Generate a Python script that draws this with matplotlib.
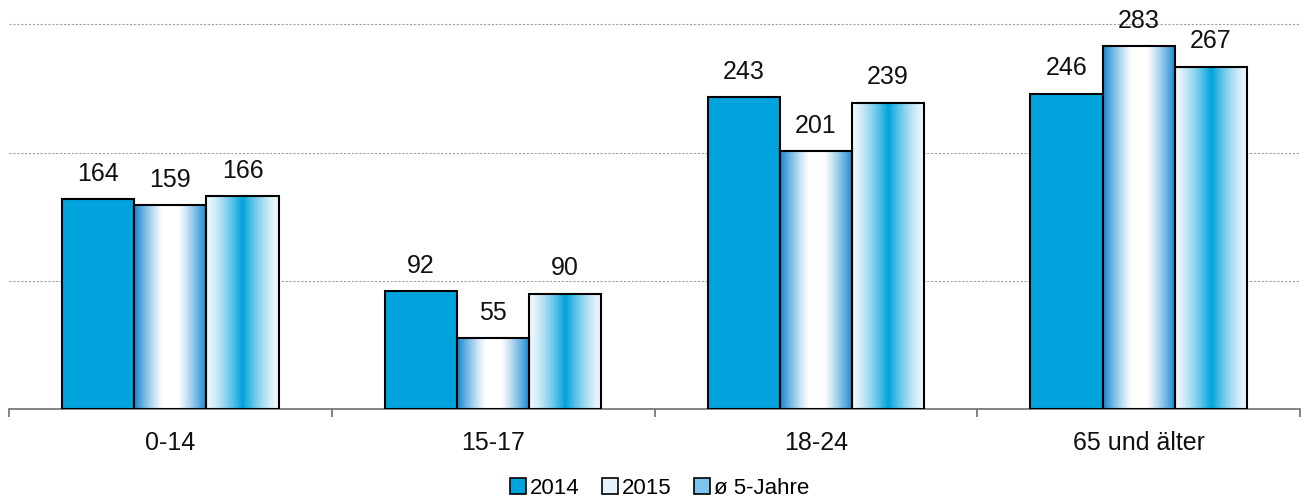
import numpy as np
import matplotlib
matplotlib.use('Agg')
import matplotlib.pyplot as plt
from matplotlib.patches import Patch
from matplotlib.ticker import FixedLocator

plt.rcParams['font.family'] = ['Liberation Sans', 'DejaVu Sans']

# data
categories = ['0-14', '15-17', '18-24', '65 und älter']
series_names = ['2014', '2015', 'ø 5-Jahre']
vals_2014 = [164, 92, 243, 246]
vals_2015 = [159, 55, 201, 283]
vals_avg = [166, 90, 239, 267]

blue = np.array([0, 163, 220]) / 255
white = np.array([1.0, 1.0, 1.0])


def profile(kind, n=200):
    # horizontal colour profile across a bar
    t = np.linspace(0, 1, n)
    d = np.abs(t - 0.5) * 2
    if kind == 'edges':
        w = np.clip((d - 0.2) / 0.8, 0, 1) ** 1.2
        edge = np.array([20, 135, 208]) / 255
        cols = white[None, :] * (1 - w[:, None]) + edge[None, :] * w[:, None]
    else:
        w = np.clip(1 - d, 0, 1) ** 1.4
        pale = np.array([242, 247, 252]) / 255
        cols = pale[None, :] * (1 - w[:, None]) + blue[None, :] * w[:, None]
    return cols[None, :, :]


fig = plt.figure(figsize=(13.09, 4.99), dpi=100)
ax = fig.add_axes([0.0069, 0.1804, 0.9862, 0.8196])

x = np.arange(len(categories))
bw = 72 / 322
ax.set_xlim(-0.5, len(categories) - 0.5)
ax.set_ylim(0, 319)

for v, cat_x in zip(vals_2014, x):
    ax.bar(cat_x - bw, v, width=bw, color=blue, edgecolor='black', linewidth=1.5, zorder=3)

for vals, off, kind in [(vals_2015, 0, 'edges'), (vals_avg, bw, 'center')]:
    for v, cat_x in zip(vals, x):
        left = cat_x + off - bw / 2
        ax.imshow(profile(kind), extent=[left, left + bw, 0, v], aspect='auto',
                  interpolation='bilinear', zorder=3)
        ax.bar(cat_x + off, v, width=bw, color='none', edgecolor='black', linewidth=1.5, zorder=4)

ax.set_aspect('auto')

for vals, off in [(vals_2014, -bw), (vals_2015, 0), (vals_avg, bw)]:
    for v, cat_x in zip(vals, x):
        ax.annotate(str(v), (cat_x + off, v), xytext=(0, 9.5), textcoords='offset points',
                    ha='center', va='bottom', fontsize=18, color='#111111', zorder=5)

# grid
for g in [100, 200, 300]:
    ax.axhline(g, color='#a0a0a0', linestyle=(0, (2, 1.5)), linewidth=0.8, zorder=1)

for s in ['top', 'right', 'left']:
    ax.spines[s].set_visible(False)
ax.spines['bottom'].set_color('#6e6e6e')
ax.spines['bottom'].set_linewidth(1.2)
ax.set_yticks([])
ax.set_xticks(x)
ax.set_xticklabels(categories, fontsize=18, color='#111111')
ax.tick_params(axis='x', which='major', length=0, pad=15.5)
ax.xaxis.set_minor_locator(FixedLocator(np.arange(-0.5, len(categories), 1.0)))
ax.tick_params(axis='x', which='minor', length=6, width=1.2, color='#6e6e6e', direction='out')

handles = [Patch(facecolor=blue, edgecolor='black', linewidth=1.2),
           Patch(facecolor='#e6f2fb', edgecolor='black', linewidth=1.2),
           Patch(facecolor='#7cc4ec', edgecolor='black', linewidth=1.2)]
fig.legend(handles, series_names, loc='center', bbox_to_anchor=(0.504, 0.022), ncol=3,
           frameon=False, fontsize=16, handlelength=0.7, handleheight=0.7,
           handletextpad=0.2, columnspacing=1.0, borderaxespad=0)

fig.savefig('out.png', dpi=100)
